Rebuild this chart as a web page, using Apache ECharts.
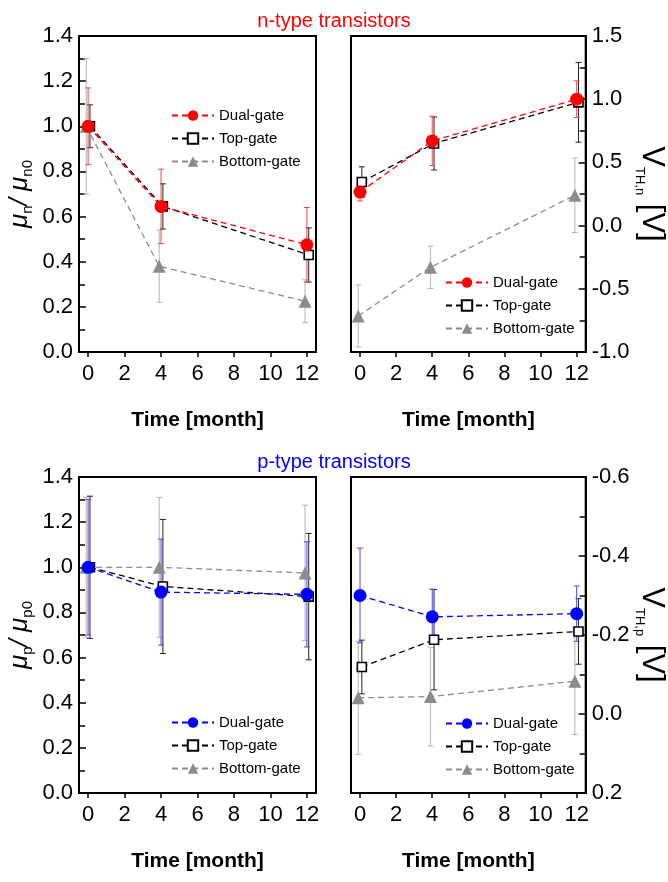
<!DOCTYPE html>
<html>
<head>
<meta charset="utf-8">
<script src="https://cdn.jsdelivr.net/npm/echarts@6/dist/echarts.min.js"></script>
<style>
  html, body { margin: 0; background: #fff; }
  #main { width: 668px; height: 882px; }
</style>
</head>
<body>
<div id="main"></div>
<script>
var FONT = '"Liberation Sans", Arial, sans-serif';

// time points (month); the three series are slightly shifted in the figure
var xDual = [0, 4, 12];
var xTop = [0.1, 4.1, 12.1];
var xBottom = [-0.1, 3.9, 11.9];
var monthTicks = [0, 2, 4, 6, 8, 10, 12];

// n-type: mobility ratio mu_n / mu_n0
var nMuDual = [1.0, 0.645, 0.475];
var nMuDualErr = [0.17, 0.165, 0.165];
var nMuTop = [1.0, 0.645, 0.43];
var nMuTopErr = [0.095, 0.1, 0.12];
var nMuBottom = [1.0, 0.38, 0.225];
var nMuBottomErr = [0.3, 0.16, 0.095];

// n-type: threshold voltage VTH,n [V]
var nVthDual = [0.265, 0.67, 1.0];
var nVthDualErr = [0.07, 0.195, 0.145];
var nVthTop = [0.345, 0.65, 0.975];
var nVthTopErr = [0.12, 0.21, 0.315];
var nVthBottom = [-0.715, -0.33, 0.24];
var nVthBottomErr = [0.245, 0.167, 0.295];

// p-type: mobility ratio mu_p / mu_p0
var pMuDual = [1.0, 0.89, 0.88];
var pMuDualErr = [0.3, 0.235, 0.233];
var pMuTop = [1.0, 0.915, 0.87];
var pMuTopErr = [0.315, 0.297, 0.28];
var pMuBottom = [1.0, 1.0, 0.975];
var pMuBottomErr = [0.31, 0.31, 0.3];

// p-type: threshold voltage VTH,p [V]
var pVthDual = [-0.30, -0.246, -0.254];
var pVthDualErr = [0.12, 0.07, 0.07];
var pVthTop = [-0.119, -0.188, -0.209];
var pVthTopErr = [0.068, 0.127, 0.083];
var pVthBottom = [-0.041, -0.044, -0.083];
var pVthBottomErr = [0.143, 0.125, 0.135];

var legendNames = ['Dual-gate', 'Top-gate', 'Bottom-gate'];

var chart = echarts.init(document.getElementById('main'));

function pairs(xs, ys) {
  return xs.map(function (x, i) { return [x, ys[i]]; });
}

function lineSeries(name, g, xs, ys, kind, color) {
  var s = {
    type: 'line',
    name: name,
    xAxisIndex: g,
    yAxisIndex: g,
    data: pairs(xs, ys),
    z: 3,
    lineStyle: { type: [6, 4], width: 1.3, color: color },
    animation: false
  };
  if (kind == 'dual') {
    s.symbol = 'circle';
    s.symbolSize = 13;
    s.itemStyle = { color: color };
    s.z = 4;
  } else if (kind == 'top') {
    s.symbol = 'rect';
    s.symbolSize = 9;
    s.itemStyle = { color: '#fff', borderColor: '#000', borderWidth: 1.6 };
  } else {
    s.symbol = 'triangle';
    s.symbolSize = 13;
    s.itemStyle = { color: color };
    s.z = 2;
  }
  return s;
}

function errSeries(g, xs, ys, es, color) {
  return {
    type: 'custom',
    xAxisIndex: g,
    yAxisIndex: g,
    z: 1,
    silent: true,
    animation: false,
    encode: { x: 0, y: 1 },
    data: xs.map(function (x, i) { return [x, ys[i], es[i]]; }),
    renderItem: function (params, api) {
      var x = api.value(0), y = api.value(1), e = api.value(2);
      var hi = api.coord([x, y + e]);
      var lo = api.coord([x, y - e]);
      var st = { stroke: color, lineWidth: 1 };
      return {
        type: 'group',
        children: [
          { type: 'line', shape: { x1: hi[0], y1: hi[1], x2: lo[0], y2: lo[1] }, style: st },
          { type: 'line', shape: { x1: hi[0] - 3, y1: hi[1], x2: hi[0] + 3, y2: hi[1] }, style: st },
          { type: 'line', shape: { x1: lo[0] - 3, y1: lo[1], x2: lo[0] + 3, y2: lo[1] }, style: st }
        ]
      };
    }
  };
}

var grids = [
  { left: 79, top: 36, width: 237, height: 316 },
  { left: 351, top: 36, width: 236, height: 316 },
  { left: 79, top: 477, width: 237, height: 316 },
  { left: 351, top: 477, width: 236, height: 316 }
].map(function (g) {
  g.show = true;
  g.borderColor = '#000';
  g.borderWidth = 2;
  return g;
});

var xAxes = grids.map(function (g, i) {
  return {
    type: 'value',
    gridIndex: i,
    min: -0.5,
    max: 12.5,
    name: 'Time [month]',
    nameLocation: 'middle',
    nameGap: 58,
    nameTextStyle: { fontFamily: FONT, fontSize: 21, fontWeight: 'bold', color: '#000' },
    axisLine: { show: true, onZero: false, lineStyle: { color: '#000', width: 2 } },
    axisTick: { show: true, inside: false, length: 5, customValues: monthTicks, lineStyle: { color: '#000', width: 1.5 } },
    axisLabel: { margin: 11, fontFamily: FONT, fontSize: 22, color: '#000', customValues: monthTicks },
    splitLine: { show: false }
  };
});

function yAxis(i, opts) {
  var a = {
    type: 'value',
    gridIndex: i,
    nameLocation: 'middle',
    axisLine: { show: true, onZero: false, lineStyle: { color: '#000', width: 2 } },
    axisTick: { show: true, inside: true, length: 7, lineStyle: { color: '#000', width: 1.5 } },
    minorTick: { show: true, splitNumber: 2, length: 6, lineStyle: { color: '#000', width: 1.5 } },
    axisLabel: {
      margin: 6, fontFamily: FONT, fontSize: 22, color: '#000',
      formatter: function (v) { return v.toFixed(1); }
    },
    splitLine: { show: false }
  };
  for (var k in opts) a[k] = opts[k];
  return a;
}

var muRich = {
  m: { fontFamily: FONT, fontSize: 26, fontStyle: 'italic', color: '#000', lineHeight: 30 },
  s: { fontFamily: FONT, fontSize: 15, color: '#000', verticalAlign: 'bottom', lineHeight: 24 }
};
var vRich = {
  v: { fontFamily: FONT, fontSize: 31, color: '#000', lineHeight: 36 },
  s: { fontFamily: FONT, fontSize: 13, color: '#000', verticalAlign: 'bottom', lineHeight: 27 }
};

var yAxes = [
  yAxis(0, { min: 0, max: 1.4, interval: 0.2, name: '{m|μ}{s|n}{m|/ μ}{s|n0}', nameGap: 44, nameRotate: 90,
    nameTextStyle: { rich: muRich } }),
  yAxis(1, { position: 'right', min: -1, max: 1.5, interval: 0.5, name: '{v|V}{s|TH,n}{v| [V]}', nameGap: 47, nameRotate: -90,
    nameTextStyle: { rich: vRich } }),
  yAxis(2, { min: 0, max: 1.4, interval: 0.2, name: '{m|μ}{s|p}{m|/ μ}{s|p0}', nameGap: 44, nameRotate: 90,
    nameTextStyle: { rich: muRich } }),
  yAxis(3, { position: 'right', inverse: true, min: -0.6, max: 0.2, interval: 0.2, name: '{v|V}{s|TH,p}{v| [V]}', nameGap: 47, nameRotate: -90,
    nameTextStyle: { rich: vRich } })
];

var RED = '#ff0000', BLUE = '#0000ff', GRAY = '#8c8c8c';

var series = [
  // n-type mobility
  errSeries(0, xBottom, nMuBottom, nMuBottomErr, '#b5b5b5'),
  errSeries(0, xTop, nMuTop, nMuTopErr, '#222'),
  errSeries(0, xDual, nMuDual, nMuDualErr, '#e84a4a'),
  lineSeries('Bottom-gate', 0, xBottom, nMuBottom, 'bottom', GRAY),
  lineSeries('Top-gate', 0, xTop, nMuTop, 'top', '#000'),
  lineSeries('Dual-gate', 0, xDual, nMuDual, 'dual', RED),
  // n-type VTH
  errSeries(1, xBottom, nVthBottom, nVthBottomErr, '#b5b5b5'),
  errSeries(1, xTop, nVthTop, nVthTopErr, '#222'),
  errSeries(1, xDual, nVthDual, nVthDualErr, '#e84a4a'),
  lineSeries('Bottom-gate', 1, xBottom, nVthBottom, 'bottom', GRAY),
  lineSeries('Top-gate', 1, xTop, nVthTop, 'top', '#000'),
  lineSeries('Dual-gate', 1, xDual, nVthDual, 'dual', RED),
  // p-type mobility
  errSeries(2, xBottom, pMuBottom, pMuBottomErr, '#b5b5b5'),
  errSeries(2, xTop, pMuTop, pMuTopErr, '#222'),
  errSeries(2, xDual, pMuDual, pMuDualErr, '#4a4ae8'),
  lineSeries('Bottom-gate (p)', 2, xBottom, pMuBottom, 'bottom', GRAY),
  lineSeries('Top-gate (p)', 2, xTop, pMuTop, 'top', '#000'),
  lineSeries('Dual-gate (p)', 2, xDual, pMuDual, 'dual', BLUE),
  // p-type VTH
  errSeries(3, xBottom, pVthBottom, pVthBottomErr, '#b5b5b5'),
  errSeries(3, xTop, pVthTop, pVthTopErr, '#222'),
  errSeries(3, xDual, pVthDual, pVthDualErr, '#4a4ae8'),
  lineSeries('Bottom-gate (p)', 3, xBottom, pVthBottom, 'bottom', GRAY),
  lineSeries('Top-gate (p)', 3, xTop, pVthTop, 'top', '#000'),
  lineSeries('Dual-gate (p)', 3, xDual, pVthDual, 'dual', BLUE)
];

function legend(left, top, suffix) {
  return {
    orient: 'vertical',
    left: left,
    top: top,
    padding: 0,
    itemWidth: 42,
    itemHeight: 13,
    itemGap: 8,
    selectedMode: false,
    textStyle: { fontFamily: FONT, fontSize: 15, color: '#000' },
    formatter: function (n) { return n.replace(' (p)', ''); },
    data: legendNames.map(function (n) { return n + suffix; })
  };
}

chart.setOption({
  backgroundColor: '#fff',
  animation: false,
  title: [
    { text: 'n-type transistors', left: 'center', top: 6,
      textStyle: { fontFamily: FONT, fontSize: 20, fontWeight: 'normal', color: RED } },
    { text: 'p-type transistors', left: 'center', top: 447,
      textStyle: { fontFamily: FONT, fontSize: 20, fontWeight: 'normal', color: BLUE } }
  ],
  legend: [
    legend(171, 108, ''),
    legend(445, 275, ''),
    legend(171, 715, ' (p)'),
    legend(445, 716, ' (p)')
  ],
  grid: grids,
  xAxis: xAxes,
  yAxis: yAxes,
  series: series
});
</script>
</body>
</html>
